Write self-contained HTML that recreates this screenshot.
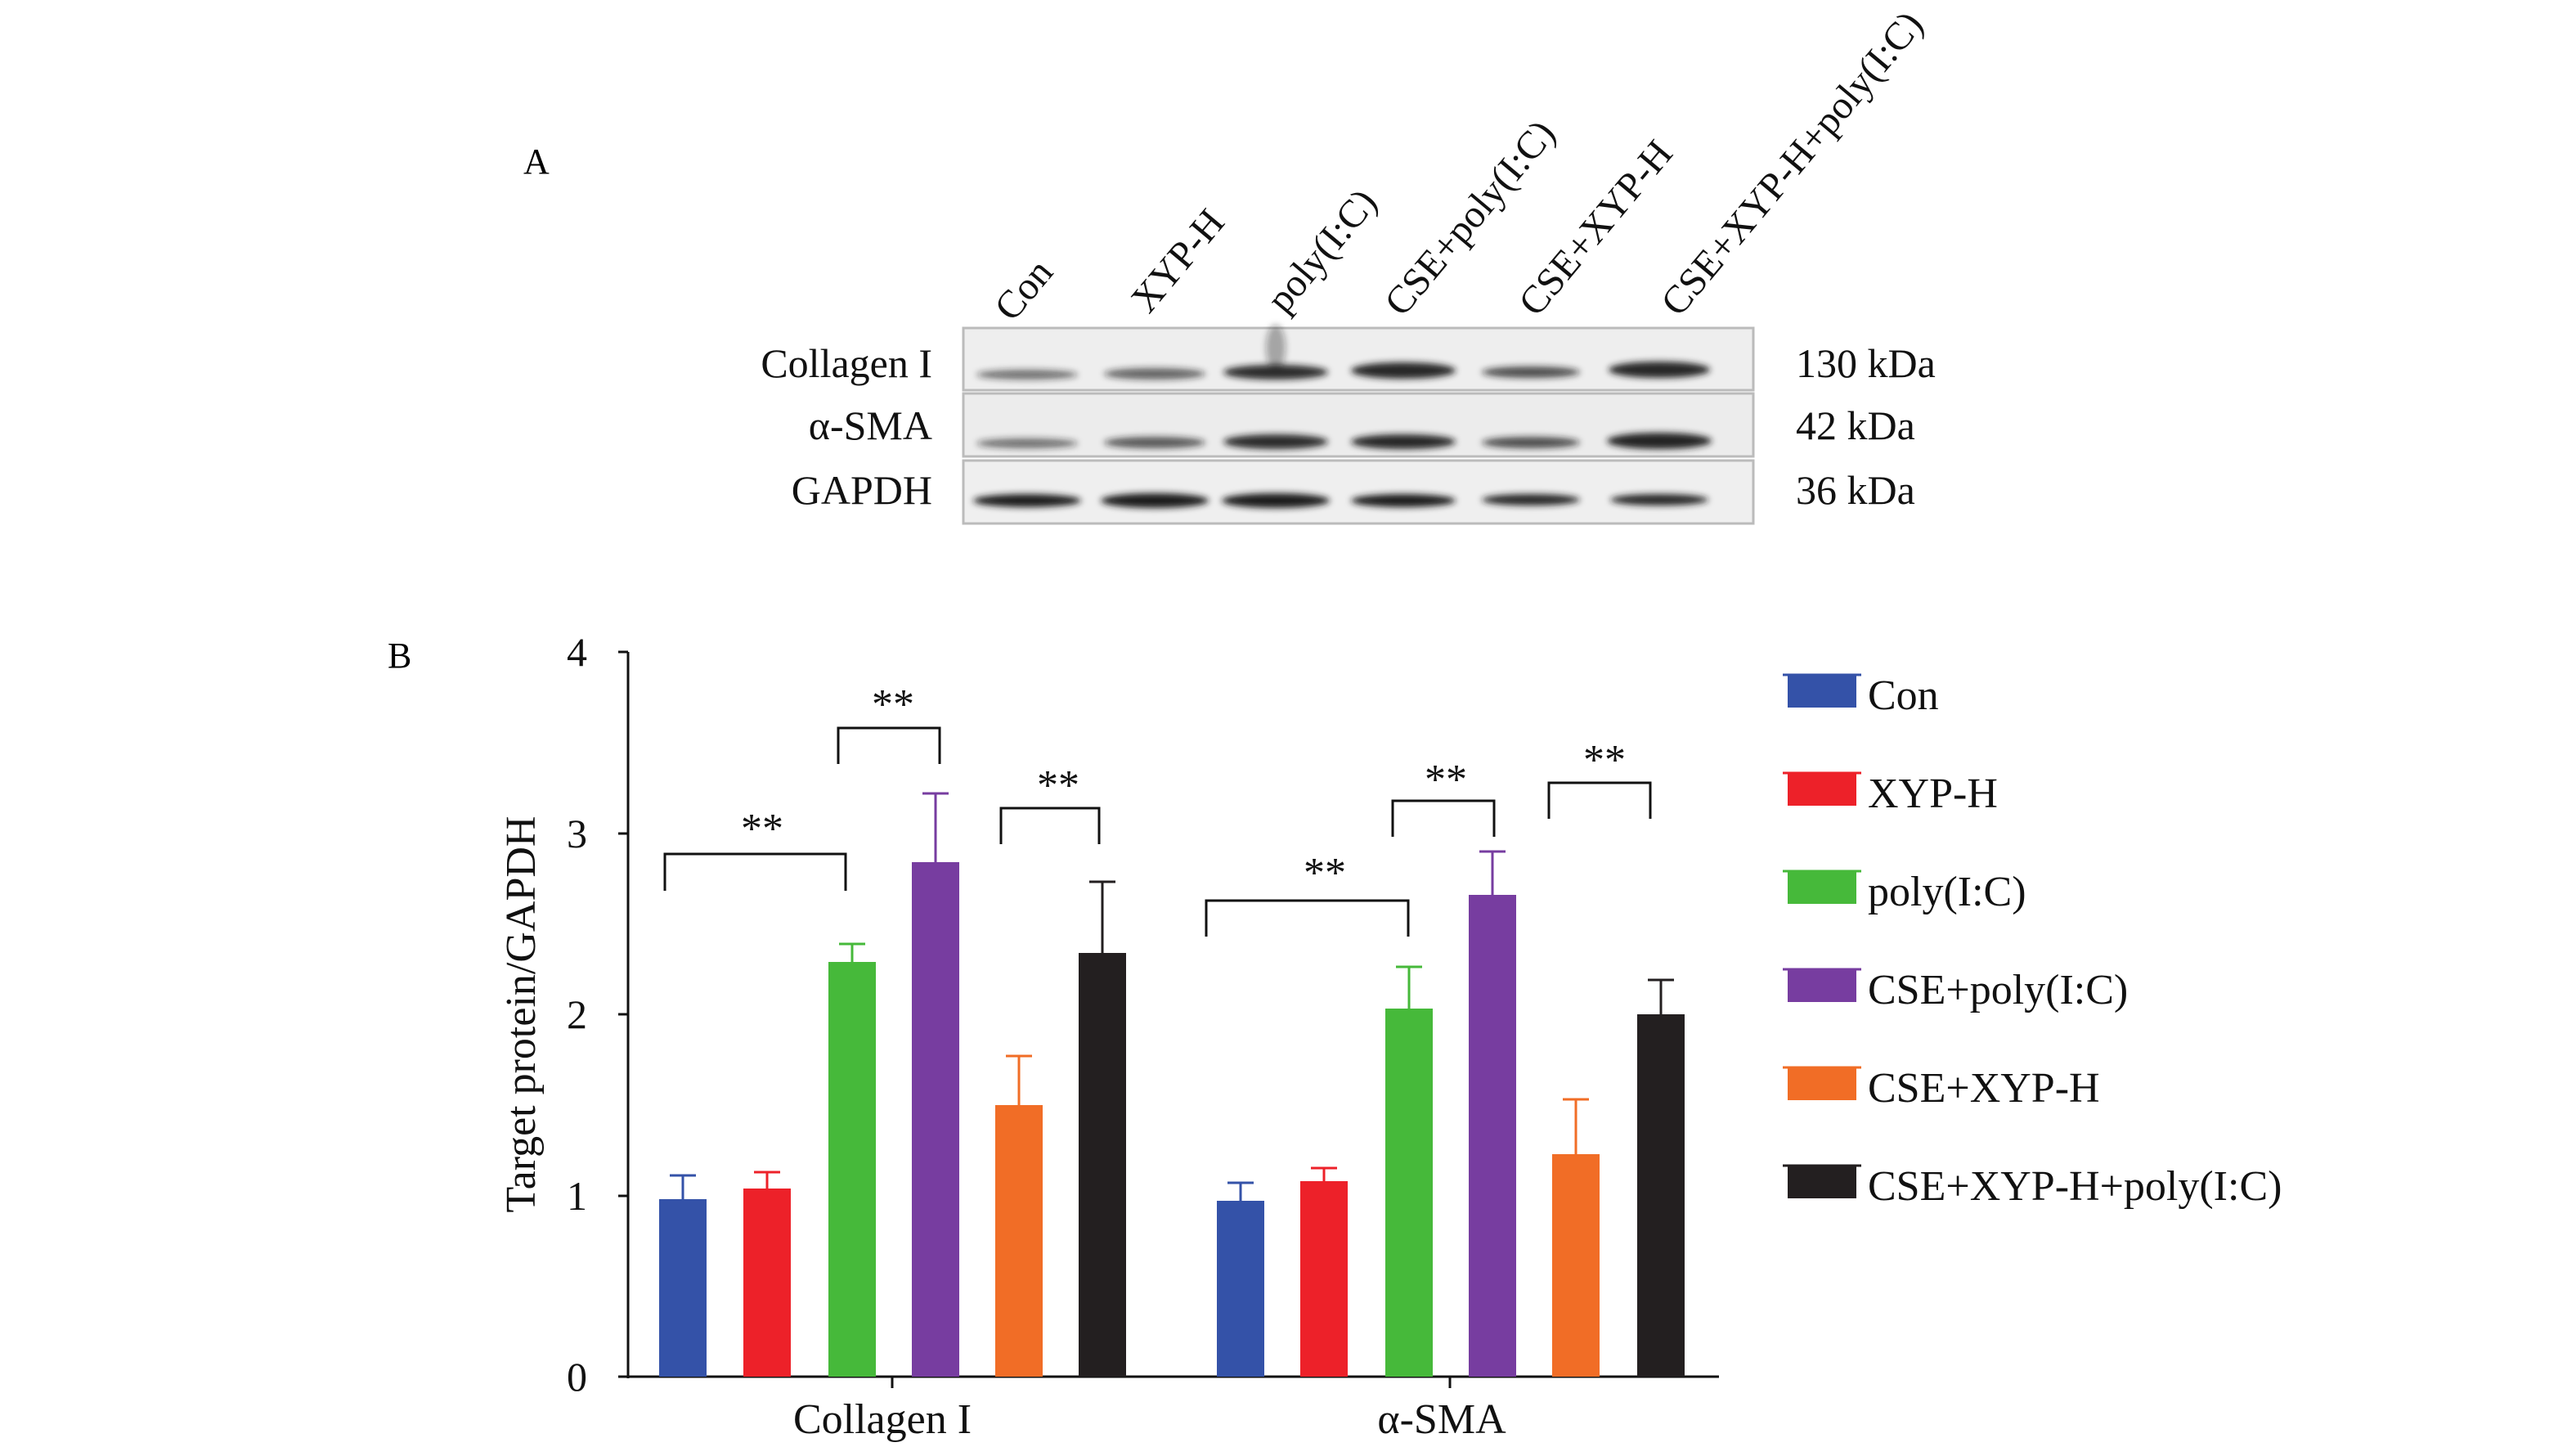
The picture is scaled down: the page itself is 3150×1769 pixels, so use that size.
<!DOCTYPE html>
<html><head><meta charset="utf-8"><style>
html,body{margin:0;padding:0;background:#fff;}
svg{display:block;font-family:"Liberation Serif",serif;}
</style></head><body>
<svg width="3150" height="1769" viewBox="0 0 3150 1769" xmlns="http://www.w3.org/2000/svg">
<defs>
<filter id="bl" x="-20%" y="-100%" width="140%" height="300%"><feGaussianBlur stdDeviation="4"/></filter>
</defs>
<text x="640" y="212" font-size="44">A</text>
<text x="474" y="816" font-size="44">B</text>
<g font-size="48" fill="#111">
<text transform="translate(1238,395) rotate(-50)">Con</text>
<text transform="translate(1405,385) rotate(-50)">XYP-H</text>
<text transform="translate(1571,385) rotate(-50)">poly(I:C)</text>
<text transform="translate(1715,389) rotate(-50)">CSE+poly(I:C)</text>
<text transform="translate(1879,389) rotate(-50)">CSE+XYP-H</text>
<text transform="translate(2053,389) rotate(-50)">CSE+XYP-H+poly(I:C)</text>
</g>
<rect x="1178" y="401" width="966" height="76" fill="#eeeeee" stroke="#bbb" stroke-width="3"/>
<rect x="1178" y="481" width="966" height="77" fill="#ececec" stroke="#bbb" stroke-width="3"/>
<rect x="1178" y="563" width="966" height="77" fill="#efefef" stroke="#bbb" stroke-width="3"/>
<g filter="url(#bl)" fill="#1a1a1a">
<ellipse cx="1256" cy="458" rx="62" ry="6" opacity="0.6"/>
<ellipse cx="1412" cy="457" rx="62" ry="7" opacity="0.65"/>
<ellipse cx="1560" cy="455" rx="64" ry="9" opacity="0.9"/>
<ellipse cx="1716" cy="453" rx="64" ry="10" opacity="0.95"/>
<ellipse cx="1872" cy="455" rx="60" ry="7" opacity="0.75"/>
<ellipse cx="2029" cy="452" rx="62" ry="10" opacity="0.95"/>
<ellipse cx="1560" cy="425" rx="12" ry="28" opacity="0.35"/>
<ellipse cx="1256" cy="542" rx="62" ry="6" opacity="0.6"/>
<ellipse cx="1412" cy="541" rx="62" ry="7" opacity="0.7"/>
<ellipse cx="1560" cy="540" rx="64" ry="9" opacity="0.9"/>
<ellipse cx="1716" cy="540" rx="64" ry="9" opacity="0.92"/>
<ellipse cx="1872" cy="541" rx="60" ry="7" opacity="0.75"/>
<ellipse cx="2029" cy="539" rx="64" ry="10" opacity="0.97"/>
<ellipse cx="1256" cy="612" rx="66" ry="8" opacity="1"/>
<ellipse cx="1412" cy="612" rx="66" ry="9" opacity="1"/>
<ellipse cx="1560" cy="612" rx="66" ry="9" opacity="1"/>
<ellipse cx="1716" cy="612" rx="64" ry="8" opacity="1"/>
<ellipse cx="1872" cy="611" rx="60" ry="7" opacity="0.95"/>
<ellipse cx="2029" cy="611" rx="60" ry="7" opacity="0.95"/>
</g>
<g font-size="50" fill="#111">
<text x="1140" y="461" text-anchor="end">Collagen I</text>
<text x="1140" y="537" text-anchor="end">α-SMA</text>
<text x="1140" y="616" text-anchor="end">GAPDH</text>
<text x="2196" y="461">130 kDa</text>
<text x="2196" y="537">42 kDa</text>
<text x="2196" y="616">36 kDa</text>
</g>
<g stroke="#111" stroke-width="3" fill="none">
<line x1="768" y1="797" x2="768" y2="1685"/>
<line x1="766" y1="1683" x2="2102" y2="1683"/>
<line x1="756" y1="797" x2="768" y2="797"/>
<line x1="756" y1="1019" x2="768" y2="1019"/>
<line x1="756" y1="1240" x2="768" y2="1240"/>
<line x1="756" y1="1462" x2="768" y2="1462"/>
<line x1="756" y1="1683" x2="768" y2="1683"/>
<line x1="1091" y1="1683" x2="1091" y2="1697"/>
<line x1="1773" y1="1683" x2="1773" y2="1697"/>
</g>
<g font-size="50" fill="#111" text-anchor="end">
<text x="718" y="814">4</text>
<text x="718" y="1036">3</text>
<text x="718" y="1257">2</text>
<text x="718" y="1479">1</text>
<text x="718" y="1700">0</text>
</g>
<text transform="translate(654,1240) rotate(-90)" font-size="52" text-anchor="middle" fill="#111">Target protein/GAPDH</text>
<g font-size="52" fill="#111" text-anchor="middle">
<text x="1079" y="1752">Collagen I</text>
<text x="1763" y="1752">α-SMA</text>
</g>
<g stroke-width="3">
<path d="M835 1466V1437M819 1437H851" stroke="#3452a8"/>
<path d="M938 1453V1433M922 1433H954" stroke="#ed2129"/>
<path d="M1042 1176V1154M1026 1154H1058" stroke="#46b93a"/>
<path d="M1144 1054V970M1128 970H1160" stroke="#773da0"/>
<path d="M1246 1351V1291M1230 1291H1262" stroke="#f16d26"/>
<path d="M1348 1165V1078M1332 1078H1364" stroke="#231f20"/>
<path d="M1517 1468V1446M1501 1446H1533" stroke="#3452a8"/>
<path d="M1619 1444V1428M1603 1428H1635" stroke="#ed2129"/>
<path d="M1723 1233V1182M1707 1182H1739" stroke="#46b93a"/>
<path d="M1825 1094V1041M1809 1041H1841" stroke="#773da0"/>
<path d="M1927 1411V1344M1911 1344H1943" stroke="#f16d26"/>
<path d="M2031 1240V1198M2015 1198H2047" stroke="#231f20"/>
</g>
<g>
<rect x="806" y="1466" width="58" height="217" fill="#3452a8"/>
<rect x="909" y="1453" width="58" height="230" fill="#ed2129"/>
<rect x="1013" y="1176" width="58" height="507" fill="#46b93a"/>
<rect x="1115" y="1054" width="58" height="629" fill="#773da0"/>
<rect x="1217" y="1351" width="58" height="332" fill="#f16d26"/>
<rect x="1319" y="1165" width="58" height="518" fill="#231f20"/>
<rect x="1488" y="1468" width="58" height="215" fill="#3452a8"/>
<rect x="1590" y="1444" width="58" height="239" fill="#ed2129"/>
<rect x="1694" y="1233" width="58" height="450" fill="#46b93a"/>
<rect x="1796" y="1094" width="58" height="589" fill="#773da0"/>
<rect x="1898" y="1411" width="58" height="272" fill="#f16d26"/>
<rect x="2002" y="1240" width="58" height="443" fill="#231f20"/>
</g>
<g fill="none" stroke="#111" stroke-width="3">
<polyline points="813,1089 813,1044 1034,1044 1034,1089"/>
<polyline points="1025,934 1025,890 1149,890 1149,934"/>
<polyline points="1224,1032 1224,988 1344,988 1344,1032"/>
<polyline points="1475,1145 1475,1101 1722,1101 1722,1145"/>
<polyline points="1703,1023 1703,979 1827,979 1827,1023"/>
<polyline points="1894,1001 1894,957 2018,957 2018,1001"/>
</g>
<g font-size="52" fill="#111" text-anchor="middle">
<text x="932" y="1030">**</text>
<text x="1092" y="878">**</text>
<text x="1294" y="977">**</text>
<text x="1620" y="1084">**</text>
<text x="1768" y="970">**</text>
<text x="1962" y="946">**</text>
</g>
<g font-size="52" fill="#111">
<rect x="2186" y="825" width="84" height="40" fill="#3452a8"/><line x1="2180" y1="825" x2="2276" y2="825" stroke="#3452a8" stroke-width="3"/>
<text x="2284" y="867">Con</text>
<rect x="2186" y="945" width="84" height="40" fill="#ed2129"/><line x1="2180" y1="945" x2="2276" y2="945" stroke="#ed2129" stroke-width="3"/>
<text x="2284" y="987">XYP-H</text>
<rect x="2186" y="1065" width="84" height="40" fill="#46b93a"/><line x1="2180" y1="1065" x2="2276" y2="1065" stroke="#46b93a" stroke-width="3"/>
<text x="2284" y="1107">poly(I:C)</text>
<rect x="2186" y="1185" width="84" height="40" fill="#773da0"/><line x1="2180" y1="1185" x2="2276" y2="1185" stroke="#773da0" stroke-width="3"/>
<text x="2284" y="1227">CSE+poly(I:C)</text>
<rect x="2186" y="1305" width="84" height="40" fill="#f16d26"/><line x1="2180" y1="1305" x2="2276" y2="1305" stroke="#f16d26" stroke-width="3"/>
<text x="2284" y="1347">CSE+XYP-H</text>
<rect x="2186" y="1425" width="84" height="40" fill="#231f20"/><line x1="2180" y1="1425" x2="2276" y2="1425" stroke="#231f20" stroke-width="3"/>
<text x="2284" y="1467">CSE+XYP-H+poly(I:C)</text>
</g>
</svg>
</body></html>
